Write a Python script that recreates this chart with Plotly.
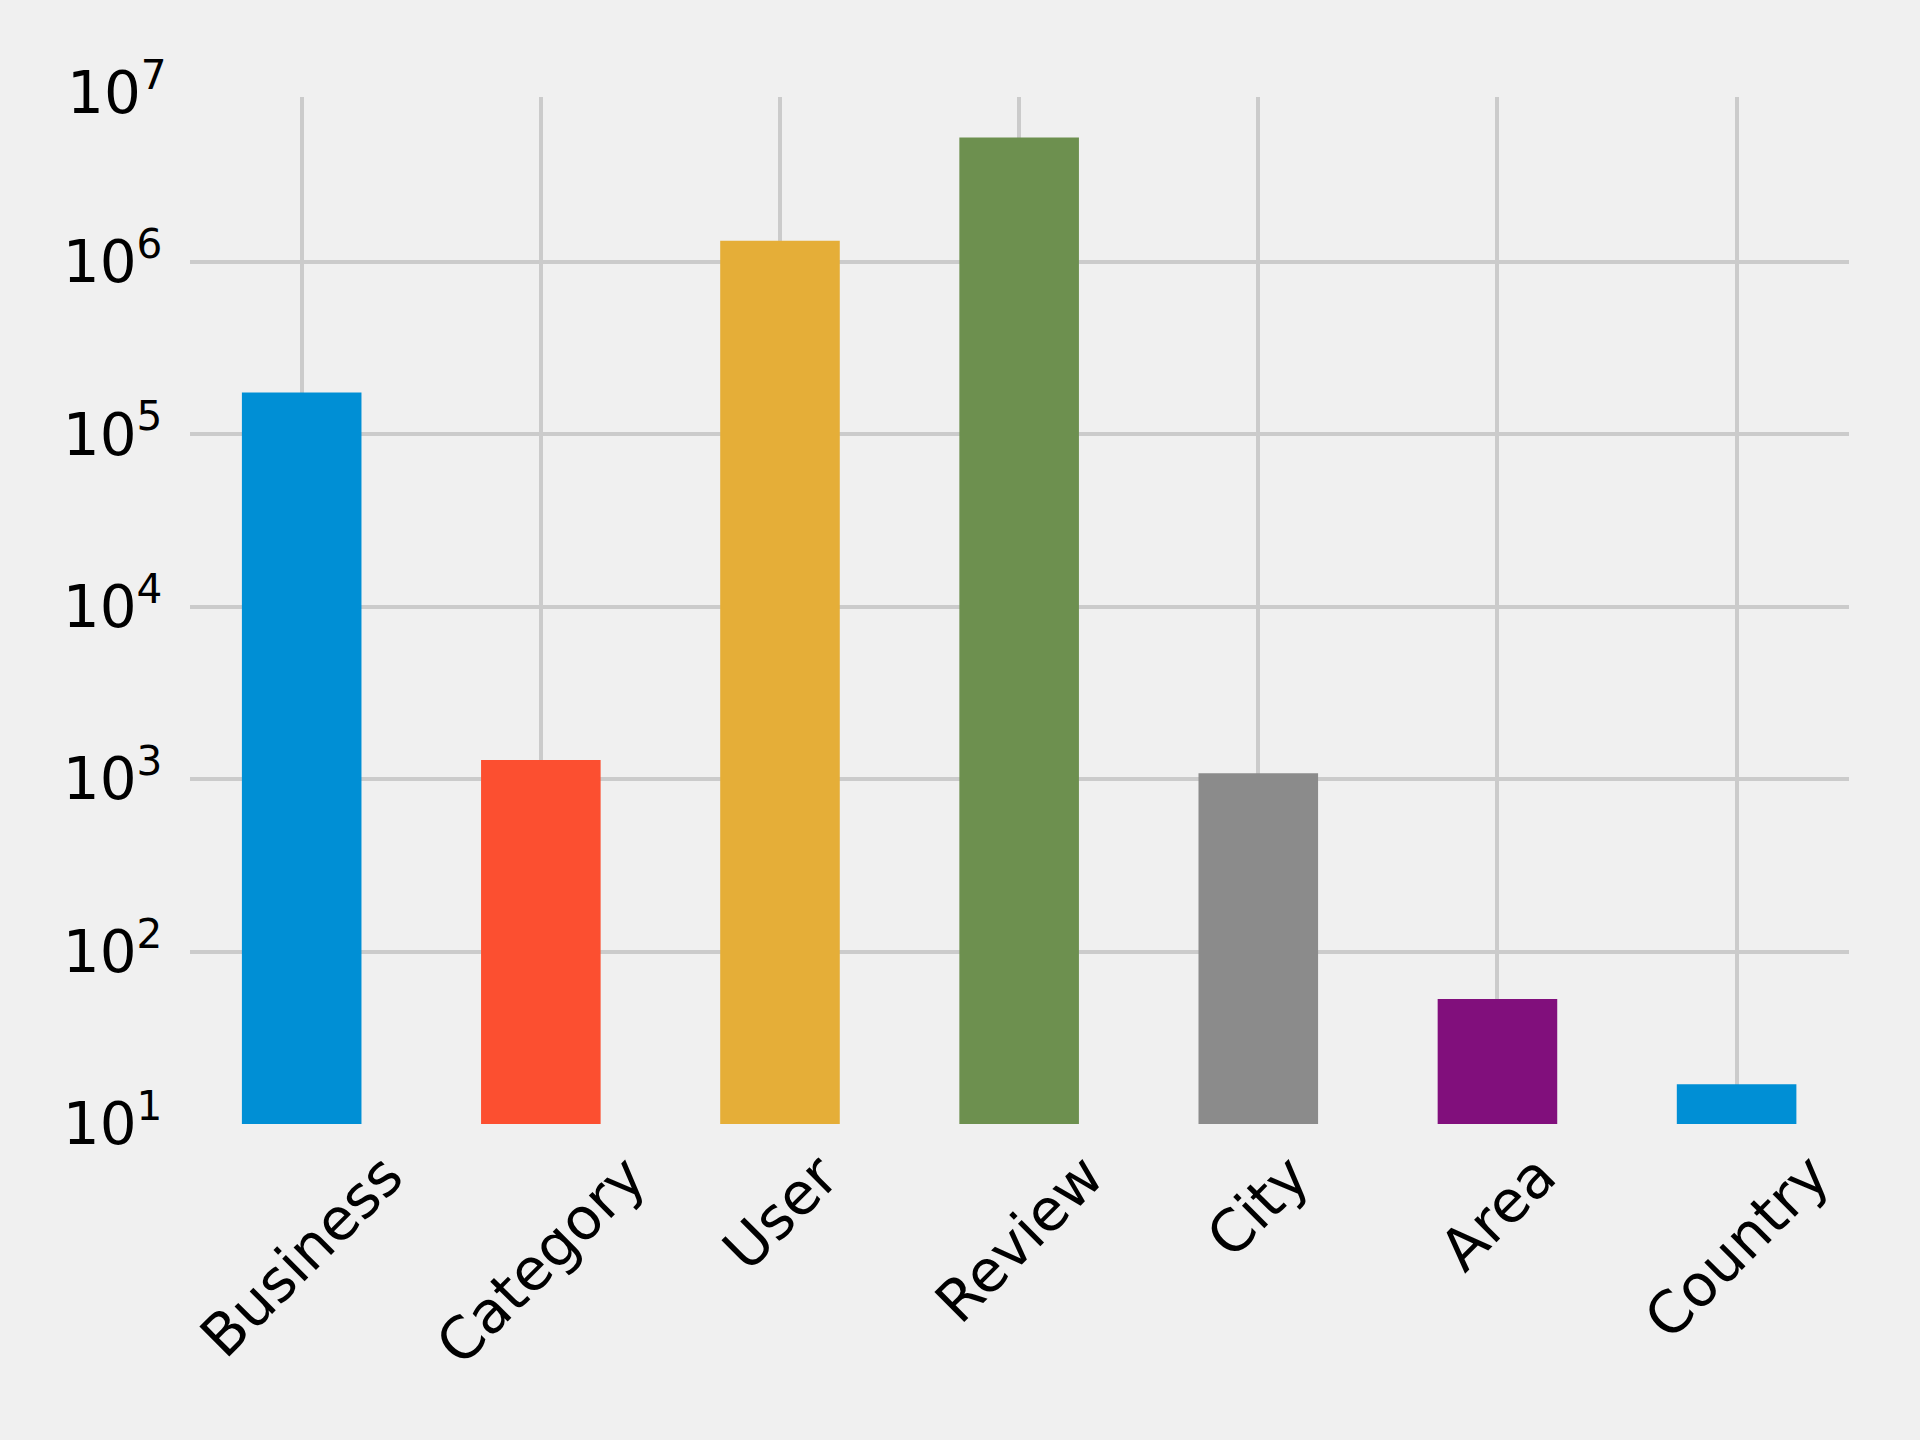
import plotly.graph_objects as go

# --- data ---
categories = ["Business", "Category", "User", "Review", "City", "Area", "Country"]
counts = [174567, 1293, 1326101, 5261669, 1080, 53, 17]
colors = ["#008fd5", "#fc4f30", "#e5ae38", "#6d904f", "#8b8b8b", "#810f7c", "#008fd5"]
y_tick_exps = [1, 2, 3, 4, 5, 6, 7]
y_tick_text = ["10<sup>%d</sup>" % e for e in y_tick_exps]

Y_LO, Y_HI = 1, 6.956
BG = "#f0f0f0"
GRID = "#cbcbcb"
FONT = dict(family="DejaVu Sans", size=58, color="black")

fig = go.Figure()

fig.add_trace(go.Bar(
    x=categories,
    y=counts,
    marker=dict(color=colors, line=dict(width=0)),
    width=0.5,
    showlegend=False,
))

# x labels rotated 45 deg, centred under each bar like matplotlib does
for cat in categories:
    fig.add_annotation(
        x=cat, xref="x", y=0, yref="paper",
        text=cat, textangle=-45, showarrow=False,
        xanchor="center", yanchor="top", yshift=-15,
        font=FONT,
    )

# 10^7 label sits just above the top of the axes
fig.add_annotation(
    x=0, xref="paper",
    y=(y_tick_exps[-1] - Y_LO) / (Y_HI - Y_LO), yref="y domain",
    text=y_tick_text[-1], showarrow=False,
    xanchor="right", yanchor="middle", xshift=-21,
    font=FONT,
)

fig.update_xaxes(
    range=[-0.467, 6.47],
    showgrid=True, gridcolor=GRID, gridwidth=4,
    showticklabels=False, ticks="", zeroline=False, showline=False,
)
fig.update_yaxes(
    type="log",
    range=[Y_LO, Y_HI],
    tickvals=[10 ** e for e in y_tick_exps],
    ticktext=y_tick_text,
    showgrid=True, gridcolor=GRID, gridwidth=4,
    ticks="outside", ticklen=15, tickcolor="rgba(0,0,0,0)",
    zeroline=False, showline=False,
    tickfont=FONT,
)

fig.update_layout(
    width=1920, height=1440,
    margin=dict(l=190, r=71, t=97, b=316),
    paper_bgcolor=BG, plot_bgcolor=BG,
    font=FONT,
    bargap=0.5,
)

# drop the browser's default page margin so the figure fills the window
fig.write_html(
    "out.html",
    config={"displayModeBar": False},
    post_script="document.body.style.margin='0';document.body.style.background='%s';" % BG,
)
